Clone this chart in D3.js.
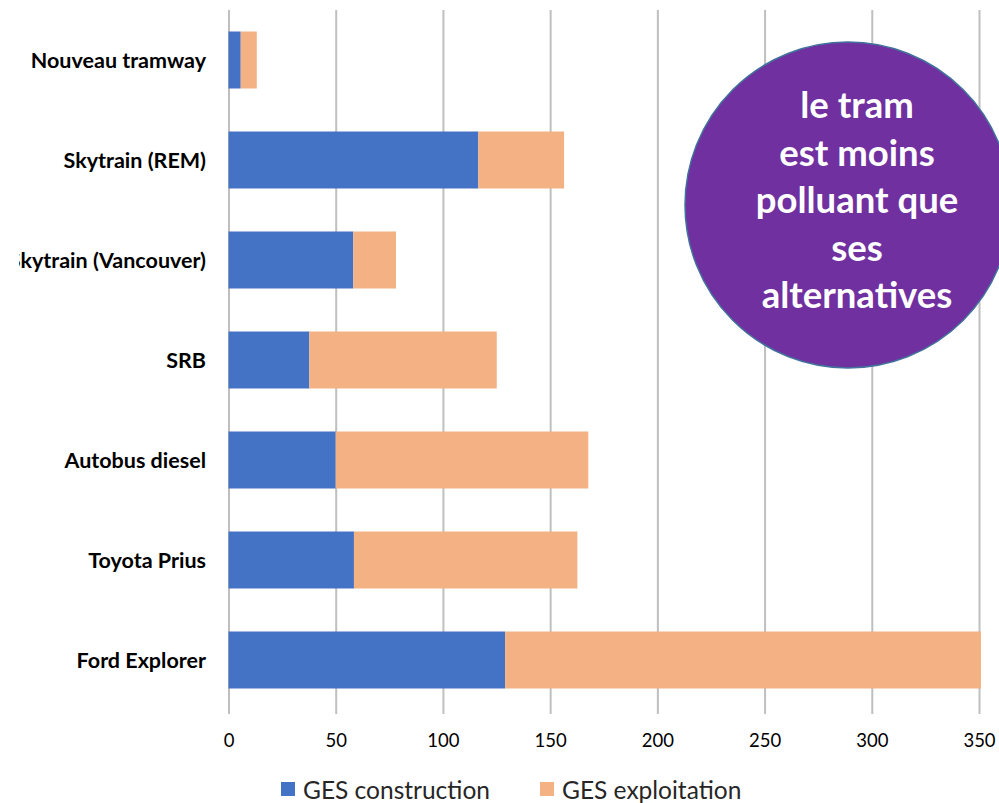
<!DOCTYPE html>
<html><head><meta charset="utf-8">
<script src="https://cdn.jsdelivr.net/npm/d3@7"></script>
<style>html,body{margin:0;padding:0;background:#fff;}svg{display:block;}</style>
</head><body>
<script>
const categories = ["Nouveau tramway","Skytrain (REM)","Skytrain (Vancouver)","SRB","Autobus diesel","Toyota Prius","Ford Explorer"];
const construction = [5.7, 116.5, 58.2, 37.7, 50, 58.5, 129];
const exploitation = [7.5, 40, 19.9, 87.4, 117.8, 104.2, 221.9];
const seriesNames = ["GES construction","GES exploitation"];
const colors = ["#4472c4","#f4b183"];
const xTicks = [0,50,100,150,200,250,300,350];
const bubbleLines = ["le tram","est moins","polluant que","ses","alternatives"];

const W = 999, H = 803;
const svg = d3.select("body").append("svg").attr("width", W).attr("height", H);
const font = "Lato, 'Open Sans', sans-serif";

const x = d3.scaleLinear().domain([0,350]).range([228.5, 979]);
const y = d3.scaleBand().domain(categories).range([10, 710]).paddingInner(0.43).paddingOuter(0.215);

// gridlines via axis
const gx = svg.append("g").attr("transform","translate(0,710)")
  .call(d3.axisBottom(x).tickValues(xTicks).tickSize(-700).tickPadding(24).tickFormat(d3.format("d")));
gx.select(".domain").remove();
gx.selectAll(".tick line").attr("stroke","#bfbfbf").attr("stroke-width",2).attr("y1", 4);
gx.selectAll(".tick text").attr("font-family",font).attr("font-size",18.5).attr("fill","#000");

// stacked bars
const stackData = categories.map((c,i)=>({cat:c, construction:construction[i], exploitation:exploitation[i]}));
const stack = d3.stack().keys(["construction","exploitation"])(stackData);
stack.forEach((s,si)=>{
  svg.append("g").selectAll("rect").data(s).join("rect")
    .attr("x", d=>x(d[0])).attr("width", d=>x(d[1])-x(d[0]))
    .attr("y", d=>y(d.data.cat)).attr("height", y.bandwidth())
    .attr("fill", colors[si]);
});

// category labels (left edge clipped as in the reference)
svg.append("clipPath").attr("id","lc").append("rect").attr("x",19).attr("y",0).attr("width",210).attr("height",H);
svg.append("g").attr("clip-path","url(#lc)").selectAll("text").data(categories).join("text")
  .attr("x", 206).attr("y", d=>y(d)+y.bandwidth()/2).attr("dy","0.36em")
  .attr("text-anchor","end").attr("font-family",font).attr("font-weight","bold").attr("font-size",21.5)
  .attr("fill","#000").text(d=>d);

// legend
const leg = svg.append("g");
const legX = [281, 540];
seriesNames.forEach((n,i)=>{
  leg.append("rect").attr("x",legX[i]).attr("y",782).attr("width",14).attr("height",14).attr("fill",colors[i]);
  leg.append("text").attr("x",legX[i]+22).attr("y",790).attr("dy","0.35em")
    .attr("font-family",font).attr("font-size",24.5).attr("fill","#262626").text(n);
});

// bubble
svg.append("circle").attr("cx",848).attr("cy",205).attr("r",163)
  .attr("fill","#7030a0").attr("stroke","#41719c").attr("stroke-width",1.5);
svg.append("g").selectAll("text").data(bubbleLines).join("text")
  .attr("x",857).attr("y",(d,i)=>118+i*47.5)
  .attr("text-anchor","middle").attr("font-family",font).attr("font-weight","bold").attr("font-size",36.5)
  .attr("fill","#fff").text(d=>d);
</script>
</body></html>
